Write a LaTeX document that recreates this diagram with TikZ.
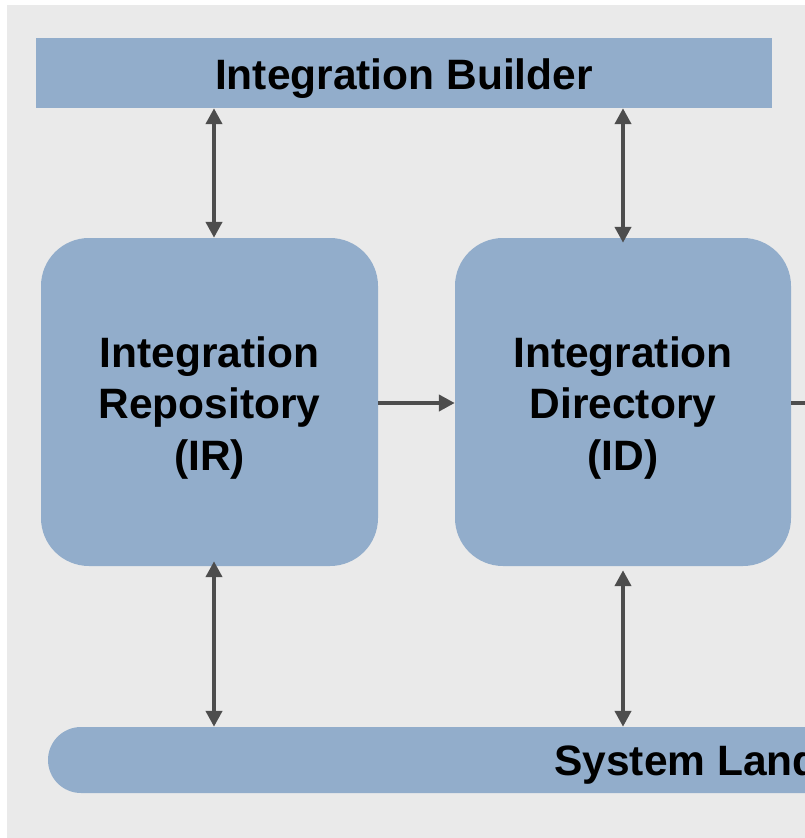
\documentclass[tikz,border=0pt]{standalone}
\usepackage{fontspec}
\setmainfont{Liberation Sans}
\usetikzlibrary{arrows.meta}
\definecolor{bgc}{HTML}{EAEAEA}
\definecolor{boxc}{HTML}{92ADCB}
\definecolor{arrc}{HTML}{4D4D4D}
\begin{document}
\begin{tikzpicture}[x=1pt,y=-1pt,
  lbl/.style={font=\fontsize{42.5}{51.5}\selectfont\bfseries, text=black, align=center, yshift=-6pt},
  blk/.style={fill=boxc, draw=none, inner sep=0pt},
  conn/.style={draw=arrc, line width=4pt, -{Triangle[width=16pt,length=16pt]}},
  bconn/.style={draw=arrc, line width=4pt, {Triangle[width=16pt,length=16pt]}-{Triangle[width=16pt,length=16pt]}}]
\useasboundingbox (0,0) rectangle (805,838);
\clip (0,0) rectangle (805,838);
\fill[white] (0,0) rectangle (805,838);
\fill[bgc] (7,5) rectangle (805,838);
% blocks
\node[blk, minimum width=736pt, minimum height=70pt,
  label={[lbl]center:Integration Builder}] (ib) at (404,73) {};
\node[blk, rounded corners=48pt, minimum width=337pt, minimum height=328pt,
  label={[lbl]center:Integration\\Repository\\(IR)}] (ir) at (209.5,402) {};
\node[blk, rounded corners=48pt, minimum width=336pt, minimum height=328pt,
  label={[lbl]center:Integration\\Directory\\(ID)}] (id) at (623,402) {};
\node[blk, rounded corners=33pt, minimum width=1600pt, minimum height=66pt,
  label={[lbl, xshift=-2pt, yshift=1pt]center:System Landscape Directory}] (sld) at (848,760) {};
% coordinates
\coordinate (xl) at (214,0);
\coordinate (xr) at (623,0);
\coordinate (out) at (840,403);
% connectors
\draw[bconn] (ib.south -| xl) -- (ir.north -| xl);
\draw[bconn] (ib.south -| xr) -- ([yshift=-5pt]id.north -| xr);
\draw[bconn] ([yshift=5pt]ir.south -| xl) -- (sld.north -| xl);
\draw[bconn] ([yshift=-4pt]id.south -| xr) -- (sld.north -| xr);
\draw[conn] (ir.east |- out) -- (id.west |- out);
\draw[conn] (id.east |- out) -- (out);
\end{tikzpicture}
\end{document}
